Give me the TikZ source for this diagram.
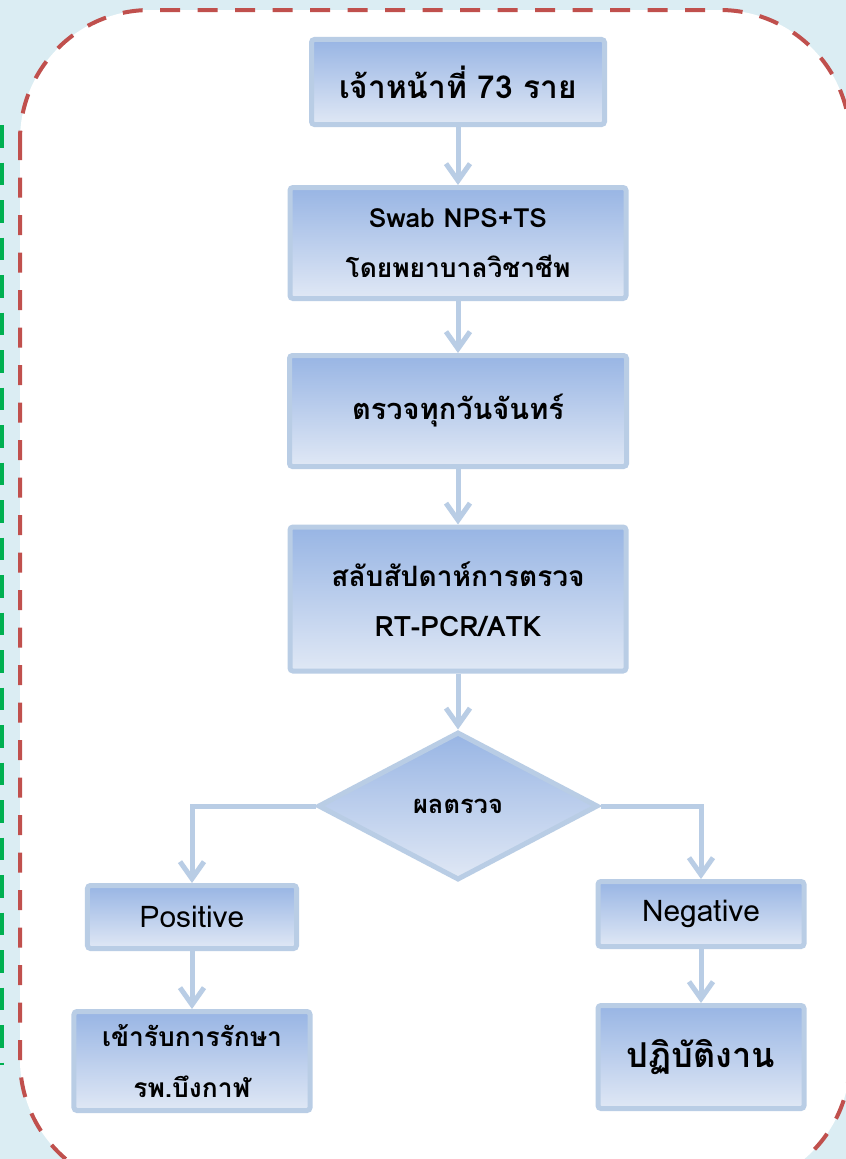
\documentclass[tikz,border=0pt]{standalone}
\usepackage{fontspec}
\setmainfont[Script=Thai]{Loma}
\usetikzlibrary{shapes.geometric,arrows.meta}
\definecolor{bgblue}{HTML}{DBEDF3}
\definecolor{framered}{HTML}{C0504D}
\definecolor{framegreen}{HTML}{00B050}
\definecolor{boxline}{HTML}{B9CDE5}
\definecolor{boxtop}{HTML}{98B5E4}
\definecolor{boxbot}{HTML}{E0E8F5}
\tikzset{
  flowbox/.style={draw=boxline,line width=1mm,rounded corners=0.6mm,
    top color=boxtop,bottom color=boxbot,align=center,inner sep=0pt,
    font=\bfseries\fontsize{15}{28.5}\selectfont},
  decide/.style={shape=diamond,draw=boxline,line width=1mm,
    top color=boxtop,bottom color=boxbot,inner sep=0pt,aspect=1.89,
    minimum width=56mm,minimum height=29.6mm,font=\bfseries\fontsize{14.5}{17}\selectfont},
  flowarrow/.style={draw=boxline,line width=1mm,-{Straight Barb[length=3.4mm,width=4.8mm]}}
}
\begin{document}
\begin{tikzpicture}[x=0.2mm,y=-0.2mm]
\useasboundingbox (0,0) rectangle (846,1159);
\clip (0,0) rectangle (846,1159);
\fill[bgblue] (0,0) rectangle (846,1159);
% frames
\draw[framegreen,line width=0.8mm,dash pattern=on 4.5mm off 3mm] (2,125) -- (2,1065);
\draw[framered,fill=white,line width=0.8mm,dash pattern=on 4mm off 3.5mm,rounded corners=26mm] (20,10) rectangle (850,1190);
% main column
\node[flowbox,minimum width=58.6mm,minimum height=17mm,font=\bfseries\fontsize{18}{20}\selectfont] (staff) at (458,82) {เจ้าหน้าที่ 73 ราย};
\node[flowbox,minimum width=67.2mm,minimum height=22.2mm] (swab) at (458,243) {Swab NPS+TS\\โดยพยาบาลวิชาชีพ};
\node[flowbox,minimum width=67.4mm,minimum height=22.2mm,font=\bfseries\fontsize{16.5}{20}\selectfont] (monday) at (458,411) {ตรวจทุกวันจันทร์};
\node[flowbox,minimum width=67.2mm,minimum height=28.8mm,font=\bfseries\fontsize{16}{28.5}\selectfont] (alternate) at (458,599) {สลับสัปดาห์การตรวจ\\RT-PCR/ATK};
\node[decide] (result) at (458,806) {ผลตรวจ};
% branches
\node[flowbox,minimum width=41.8mm,minimum height=12.6mm,font=\fontsize{17}{18}\selectfont] (pos) at (192,917) {Positive};
\node[flowbox,minimum width=47.2mm,minimum height=19.8mm] (treat) at (192,1061) {เข้ารับการรักษา\\รพ.บึงกาฬ};
\node[flowbox,minimum width=41.2mm,minimum height=13mm,font=\fontsize{17}{18}\selectfont] (neg) at (701,914) {Negative};
\node[flowbox,minimum width=41.2mm,minimum height=20.6mm,font=\bfseries\fontsize{19.5}{20}\selectfont] (work) at (701,1057) {ปฏิบัติงาน};
% arrows
\draw[flowarrow] (staff) -- (swab);
\draw[flowarrow] (swab) -- (monday);
\draw[flowarrow] (monday) -- (alternate);
\draw[flowarrow] (alternate) -- (result);
\draw[flowarrow] (result.west) -| (pos.north);
\draw[flowarrow] (result.east) -| (neg.north);
\draw[flowarrow] (pos) -- (treat);
\draw[flowarrow] (neg) -- (work);
\end{tikzpicture}
\end{document}
